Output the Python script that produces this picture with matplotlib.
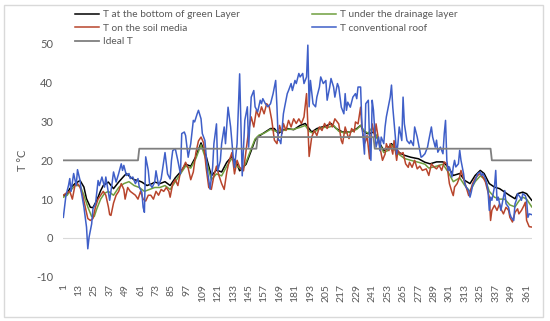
"""Daily roof temperatures: green roof layers vs conventional roof."""

import numpy as np
import matplotlib
matplotlib.use('Agg')
import matplotlib.pyplot as plt
from matplotlib.patches import Rectangle


# --- data (day of year, deg C) ---
blue_days = [1, 3, 5, 6, 7, 9, 11, 12, 14, 15, 17, 19, 20, 21, 23, 24, 26, 28, 29, 31,
             33, 34, 36, 37, 39, 40, 42, 44, 46, 47, 48, 50, 52, 53, 55, 57, 59, 60, 62, 63,
             64, 65, 67, 68, 70, 72, 73, 75, 77, 80, 82, 84, 85, 86, 88, 90, 92, 93, 95, 96,
             98, 100, 102, 103, 105, 106, 108, 109, 111, 113, 115, 117, 118, 120, 121, 123, 124, 126, 127, 129,
             131, 133, 134, 136, 138, 139, 140, 142, 144, 145, 147, 149, 150, 152, 154, 155, 156, 158, 160, 162,
             164, 166, 167, 168, 169, 170, 172, 173, 175, 176, 178, 179, 181, 182, 184, 185, 187, 188, 190, 191,
             192, 193, 195, 197, 198, 200, 201, 203, 205, 206, 208, 209, 211, 212, 214, 215, 217, 219, 220, 221,
             222, 224, 226, 228, 229, 230, 232, 233, 235, 236, 238, 239, 240, 241, 242, 243, 244, 246, 247, 248,
             250, 251, 252, 254, 255, 256, 257, 259, 260, 261, 262, 264, 265, 266, 268, 270, 271, 273, 274, 276,
             277, 279, 280, 282, 284, 285, 287, 288, 290, 291, 292, 294, 296, 297, 298, 299, 300, 301, 303, 304,
             305, 306, 308, 309, 310, 312, 313, 314, 316, 317, 318, 319, 321, 322, 323, 325, 326, 327, 329, 330,
             331, 332, 333, 334, 336, 337, 338, 339, 340, 341, 343, 344, 345, 347, 348, 349, 351, 352, 353, 354,
             356, 357, 358, 360, 361, 362, 363, 365]
blue_vals = [5.3, 10.9, 13.5, 15.3, 12.0, 16.6, 13.5, 17.6, 14.8, 11.8, 7.9, 2.8, -2.8, 0.2, 3.6, 7.5, 8.8, 14.8, 13.5, 15.7,
             13.1, 15.7, 11.8, 9.7, 14.4, 17.0, 14.4, 16.6, 19.1, 17.4, 18.7, 16.1, 16.6, 15.3, 15.7, 14.0, 15.3, 13.1, 11.8, 7.9,
             6.6, 20.9, 17.4, 14.0, 13.0, 14.4, 17.3, 13.5, 15.2, 22.0, 16.5, 15.2, 19.9, 22.5, 23.0, 19.9, 16.5, 26.9, 27.3, 26.4,
             20.8, 24.3, 30.3, 29.9, 32.0, 32.9, 30.7, 26.9, 25.1, 17.3, 12.6, 18.2, 24.3, 29.4, 17.3, 19.9, 24.3, 28.6, 24.3, 33.7,
             28.6, 20.8, 18.2, 24.3, 42.3, 28.6, 16.0, 30.3, 33.8, 23.4, 36.3, 38.0, 33.8, 32.5, 35.5, 34.6, 35.9, 34.6, 33.8, 34.6,
             37.2, 40.6, 33.8, 25.2, 25.2, 24.3, 32.0, 33.8, 37.2, 38.0, 39.8, 38.0, 40.6, 39.8, 42.4, 41.5, 42.4, 39.8, 41.5, 49.7,
             33.8, 40.6, 34.6, 33.8, 36.3, 38.9, 41.5, 39.8, 40.6, 35.5, 38.9, 41.1, 38.9, 36.3, 39.8, 38.9, 33.7, 32.0, 37.2, 32.9,
             35.0, 33.7, 36.3, 37.2, 35.9, 38.9, 38.9, 29.4, 21.6, 34.6, 35.5, 24.3, 20.0, 35.5, 32.9, 27.7, 23.4, 26.0, 22.5, 26.0,
             24.3, 28.6, 31.2, 34.6, 36.3, 39.4, 33.7, 26.0, 21.6, 24.3, 28.6, 25.1, 36.3, 29.4, 25.1, 24.3, 25.1, 23.8, 28.6, 26.0,
             24.3, 20.8, 21.0, 21.7, 23.4, 25.2, 28.6, 26.0, 23.4, 25.2, 22.1, 23.4, 21.7, 26.9, 30.3, 20.0, 17.4, 18.3, 15.7, 18.3,
             20.0, 18.3, 19.1, 22.6, 20.0, 16.6, 14.0, 13.1, 12.2, 10.5, 11.8, 13.5, 14.8, 15.7, 16.6, 17.0, 16.1, 16.6, 15.3, 14.0,
             12.2, 7.1, 10.5, 9.7, 13.1, 17.4, 9.7, 10.5, 8.8, 7.1, 10.5, 12.2, 8.8, 7.9, 6.2, 5.3, 4.5, 8.8, 9.7, 11.4,
             10.5, 9.7, 11.4, 10.9, 9.7, 5.3, 6.2, 6.0]

red_days = [1, 3, 6, 8, 10, 12, 14, 16, 18, 20, 22, 24, 26, 28, 30, 32, 34, 36, 37, 38,
            40, 42, 44, 46, 48, 49, 51, 53, 55, 57, 59, 61, 63, 65, 67, 69, 71, 73, 75, 77,
            79, 81, 83, 84, 86, 88, 90, 92, 94, 96, 98, 100, 102, 104, 106, 108, 110, 112, 114, 116,
            118, 120, 122, 124, 126, 128, 130, 132, 134, 136, 138, 141, 143, 145, 147, 149, 151, 153, 155, 157,
            159, 161, 163, 165, 167, 169, 171, 172, 174, 176, 178, 180, 182, 184, 186, 188, 190, 192, 194, 196,
            198, 200, 202, 204, 206, 208, 210, 212, 215, 217, 218, 220, 222, 223, 225, 227, 228, 230, 232, 233,
            235, 236, 237, 239, 240, 241, 243, 244, 246, 247, 249, 251, 252, 254, 255, 257, 258, 260, 261, 263,
            265, 267, 269, 270, 272, 274, 276, 278, 280, 283, 285, 287, 289, 291, 293, 295, 297, 299, 301, 303,
            304, 305, 307, 309, 310, 312, 314, 316, 317, 319, 321, 323, 325, 327, 329, 330, 332, 333, 334, 336,
            338, 340, 341, 343, 345, 347, 348, 350, 352, 354, 355, 357, 359, 360, 361, 363, 365]
red_vals = [11.0, 11.5, 12.0, 10.0, 13.5, 14.0, 13.0, 11.0, 8.0, 5.0, 4.5, 5.0, 8.0, 10.0, 11.0, 12.0, 11.0, 8.0, 6.0, 5.8,
            9.0, 11.0, 12.0, 14.0, 12.5, 10.0, 13.0, 12.0, 11.5, 11.0, 10.0, 12.0, 10.0, 9.5, 11.0, 11.0, 10.0, 12.0, 11.0, 12.5,
            12.0, 13.0, 12.0, 10.5, 14.0, 15.0, 13.5, 17.0, 18.0, 19.5, 18.0, 15.0, 17.0, 22.0, 25.0, 26.0, 24.5, 18.0, 13.0, 12.5,
            16.0, 18.5, 16.0, 14.0, 12.5, 17.0, 20.0, 22.0, 16.5, 20.0, 18.2, 17.3, 22.5, 27.7, 31.2, 28.6, 32.9, 31.2, 33.8, 32.0,
            34.6, 33.8, 30.3, 25.2, 24.3, 29.0, 26.9, 29.5, 27.7, 30.3, 28.6, 30.7, 29.5, 30.7, 29.5, 31.2, 37.2, 21.0, 26.0, 27.7,
            26.4, 28.6, 27.7, 29.5, 28.2, 29.9, 28.6, 30.7, 29.4, 25.1, 24.3, 28.6, 26.4, 25.6, 28.2, 27.3, 29.9, 29.4, 33.7, 28.6,
            24.3, 25.1, 26.4, 20.4, 26.0, 29.4, 26.0, 29.4, 25.1, 23.4, 20.0, 21.6, 24.3, 22.5, 24.3, 21.6, 25.1, 20.0, 22.5, 21.6,
            22.0, 19.1, 18.2, 19.5, 18.2, 20.0, 17.8, 18.5, 17.4, 17.8, 16.1, 19.1, 18.3, 17.8, 18.7, 17.4, 19.6, 19.1, 14.0, 11.8,
            10.9, 13.1, 14.0, 15.7, 17.4, 15.3, 13.1, 10.9, 11.8, 14.0, 15.3, 16.1, 16.6, 15.7, 14.4, 13.1, 10.5, 4.5, 7.1, 8.4,
            7.1, 8.8, 7.5, 6.2, 7.9, 7.1, 5.3, 4.1, 6.6, 7.5, 6.2, 7.1, 8.4, 9.2, 4.5, 2.9, 2.8]

black_days = [1, 4, 6, 10, 14, 17, 19, 22, 24, 27, 30, 32, 36, 40, 44, 48, 50, 53, 56, 59,
              62, 66, 70, 72, 76, 80, 84, 88, 92, 96, 100, 104, 108, 112, 116, 120, 124, 128, 132, 136,
              138, 143, 147, 150, 152, 156, 162, 165, 168, 171, 175, 180, 185, 189, 191, 194, 198, 202, 206, 209,
              213, 218, 224, 229, 232, 234, 237, 239, 242, 244, 247, 250, 253, 256, 259, 262, 266, 271, 277, 282,
              286, 291, 296, 300, 304, 309, 313, 317, 321, 325, 328, 332, 336, 340, 344, 348, 352, 354, 358, 361,
              365]
black_vals = [10.9, 11.5, 12.7, 14.0, 14.8, 13.1, 10.1, 7.9, 7.8, 9.7, 12.2, 13.5, 14.4, 12.7, 14.4, 15.9, 16.6, 15.7, 15.0, 14.8,
              14.4, 13.5, 14.0, 14.4, 14.0, 14.5, 13.5, 15.5, 17.0, 19.0, 18.5, 21.0, 24.5, 21.0, 16.0, 17.5, 17.0, 19.5, 21.0, 19.0,
              17.3, 19.0, 22.5, 25.2, 26.0, 26.9, 28.2, 28.2, 26.9, 27.7, 28.2, 27.9, 29.0, 29.5, 28.6, 27.3, 28.2, 28.6, 29.0, 29.5,
              28.2, 27.3, 27.3, 28.2, 29.0, 27.7, 26.9, 26.9, 27.3, 26.4, 24.3, 22.5, 23.0, 24.3, 23.0, 22.0, 21.3, 20.8, 20.4, 19.5,
              19.1, 19.6, 19.6, 18.3, 16.1, 16.6, 14.8, 14.0, 16.1, 17.4, 16.6, 14.0, 13.1, 12.7, 11.8, 10.9, 10.1, 11.4, 11.8, 11.4,
              9.7]

green_days = [1, 4, 6, 10, 14, 17, 20, 23, 25, 27, 30, 33, 36, 40, 44, 48, 52, 56, 60, 64,
              68, 72, 76, 80, 84, 88, 92, 96, 100, 104, 108, 112, 116, 120, 124, 128, 132, 136, 140, 143,
              147, 150, 153, 157, 162, 166, 170, 175, 180, 185, 189, 192, 195, 199, 203, 207, 211, 215, 220, 225,
              229, 232, 235, 238, 241, 244, 247, 250, 253, 256, 259, 262, 266, 271, 277, 282, 285, 291, 296, 300,
              304, 309, 313, 317, 321, 325, 329, 332, 336, 340, 344, 348, 352, 355, 358, 361, 365]
green_vals = [10.5, 11.0, 12.0, 13.5, 13.5, 11.0, 8.0, 5.5, 5.5, 7.5, 10.0, 11.5, 12.0, 11.0, 13.0, 14.0, 14.5, 13.5, 13.0, 12.0,
              12.5, 13.0, 13.0, 13.5, 12.5, 14.5, 16.5, 18.5, 18.0, 20.5, 24.0, 20.0, 15.0, 16.5, 16.0, 18.5, 20.5, 18.5, 17.5, 19.5,
              23.0, 25.5, 26.5, 27.0, 28.0, 27.5, 27.5, 28.0, 28.0, 28.5, 29.0, 27.5, 27.0, 28.0, 28.5, 28.5, 29.0, 27.5, 27.0, 27.5,
              28.0, 29.0, 27.5, 27.0, 28.5, 26.5, 24.0, 22.0, 22.5, 24.0, 22.5, 21.5, 20.5, 20.0, 19.5, 19.0, 18.0, 18.5, 19.0, 17.0,
              14.5, 15.5, 13.5, 12.0, 14.5, 16.0, 15.0, 12.0, 10.5, 10.0, 10.0, 8.5, 8.0, 9.5, 10.5, 10.0, 8.0]

# ideal temperature: level held up to (and including) the given day
ideal_levels = [20, 23, 26, 23, 20]
ideal_last_day = [59, 151, 242, 333, 365]

x_ticks = list(range(1, 362, 12))
y_ticks = [-10, 0, 10, 20, 30, 40, 50]

BLACK = '#000000'
GREEN = '#6f9f3f'
RED = '#b8452c'
BLUE = '#3f5fc8'
GREY = '#7f7f7f'
TEXT = '#595959'


def main():
    plt.rcParams['font.family'] = ['Lato', 'DejaVu Sans']
    plt.rcParams['axes.unicode_minus'] = False

    fig = plt.figure(figsize=(5.5, 3.21), dpi=100)
    ax = fig.add_axes([0.114, 0.138, 0.854, 0.725])

    counts = np.diff([0] + ideal_last_day)
    ideal = np.repeat(ideal_levels, counts)
    ideal_days = np.arange(1, len(ideal) + 1)

    ax.axhline(0, color='#d9d9d9', linewidth=0.8, zorder=0)

    lw = 1.1
    h_black, = ax.plot(black_days, black_vals, color=BLACK, lw=lw, zorder=2)
    h_green, = ax.plot(green_days, green_vals, color=GREEN, lw=lw, zorder=3)
    h_red, = ax.plot(red_days, red_vals, color=RED, lw=lw, zorder=4)
    h_blue, = ax.plot(blue_days, blue_vals, color=BLUE, lw=lw, zorder=5)
    h_ideal, = ax.plot(ideal_days, ideal, color=GREY, lw=1.3, zorder=6)

    ax.set_xlim(0.5, 365.5)
    ax.set_ylim(-10, 50)
    ax.set_xticks(x_ticks)
    ax.set_xticklabels([str(t) for t in x_ticks], rotation=90)
    ax.set_yticks(y_ticks)
    ax.tick_params(axis='both', length=0, colors=TEXT, labelsize=8)
    ax.tick_params(axis='x', pad=5, labelsize=7.5)
    ax.tick_params(axis='y', pad=7)
    for sp in ax.spines.values():
        sp.set_visible(False)
    ax.set_facecolor('none')

    ax.set_ylabel('T °C', color=TEXT, fontsize=8)
    ax.yaxis.set_label_coords(-0.074, 0.5)

    leg_kw = dict(frameon=False, fontsize=7.3, handlelength=2.4, handletextpad=0.35,
                  labelspacing=0.45, borderpad=0, borderaxespad=0, labelcolor=TEXT,
                  loc='upper left', bbox_transform=fig.transFigure)
    leg1 = ax.legend([h_black, h_red, h_ideal],
                     ['T at the bottom of green Layer', 'T on the soil media', 'Ideal T'],
                     bbox_to_anchor=(75 / 550, 1 - 10 / 321), **leg_kw)
    ax.add_artist(leg1)
    ax.legend([h_green, h_blue],
              ['T under the drainage layer', 'T conventional roof'],
              bbox_to_anchor=(312 / 550, 1 - 10 / 321), **leg_kw)

    fig.patches.append(Rectangle((4 / 550, 4 / 321), 539 / 550, 312 / 321,
                                 transform=fig.transFigure, fill=False,
                                 edgecolor='#d9d9d9', linewidth=1.0))

    fig.savefig('out.png', dpi=100)
    plt.close(fig)


if __name__ == '__main__':
    main()
